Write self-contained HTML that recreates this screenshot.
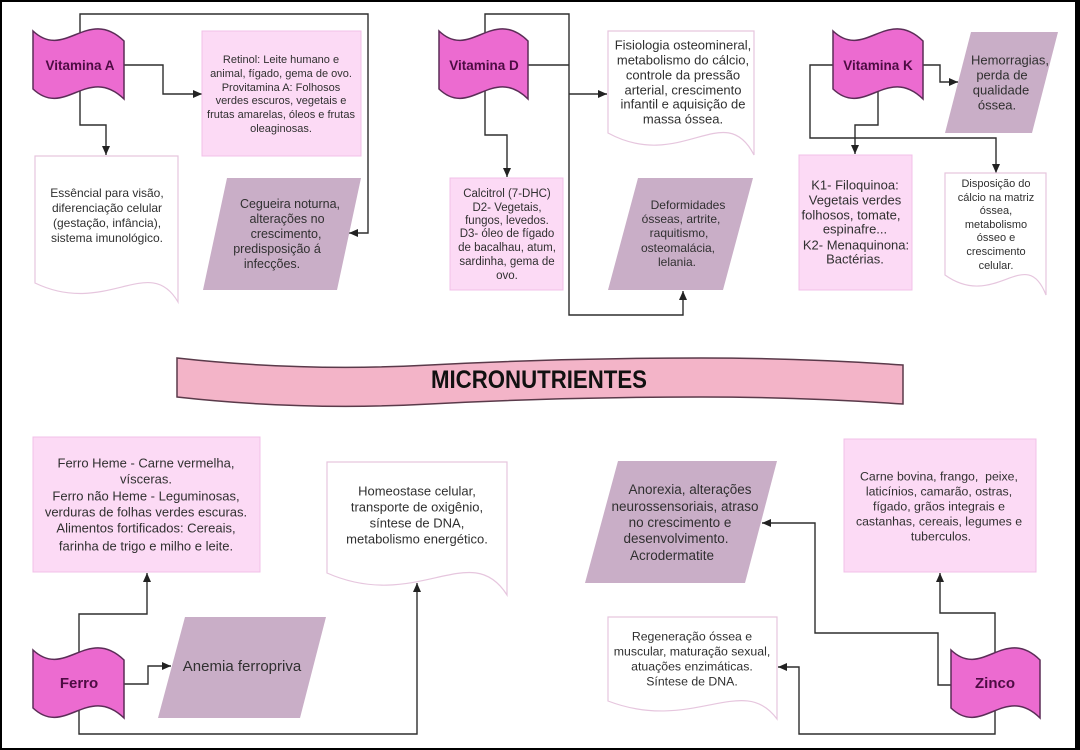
<!DOCTYPE html>
<html><head><meta charset="utf-8">
<style>
html,body{margin:0;padding:0;background:#fff;}
svg{display:block;}
text{font-family:"Liberation Sans",Arial,sans-serif;fill:#303030;}
.t{font-weight:bold;fill:#4d0c43;}
</style></head><body>
<svg width="1080" height="750" viewBox="0 0 1080 750" xmlns="http://www.w3.org/2000/svg">
<defs>
<marker id="ar" markerWidth="9" markerHeight="8" refX="9" refY="4" orient="auto" markerUnits="userSpaceOnUse"><path d="M0,0 L9,4 L0,8 Z" fill="#222"/></marker>
</defs>
<rect width="1080" height="750" fill="#fff"/>

<!-- connectors -->
<g fill="none" stroke="#2e2e2e" stroke-width="1.4">
 <polyline points="80,60 80,14 368,14 368,233 349,233" marker-end="url(#ar)"/>
 <polyline points="100,65 163,65 163,94 202,94" marker-end="url(#ar)"/>
 <polyline points="80,70 80,125 106,125 106,155" marker-end="url(#ar)"/>
 <polyline points="485,60 485,14 569,14 569,315 683,315 683,291" marker-end="url(#ar)"/>
 <polyline points="500,65 569,65"/>
 <polyline points="569,94 607,94" marker-end="url(#ar)"/>
 <polyline points="485,70 485,135 507,135 507,177" marker-end="url(#ar)"/>
 <polyline points="850,65 810,65 810,138 996,138 996,173" marker-end="url(#ar)"/>
 <polyline points="878,70 878,125 855,125 855,154" marker-end="url(#ar)"/>
 <polyline points="900,65 940,65 940,82 958,82" marker-end="url(#ar)"/>
 <polyline points="79,680 79,614 147,614 147,573" marker-end="url(#ar)"/>
 <polyline points="100,684 148,684 148,666 171,666" marker-end="url(#ar)"/>
 <polyline points="79,690 79,734 417,734 417,583" marker-end="url(#ar)"/>
 <polyline points="995,680 995,613 940,613 940,573" marker-end="url(#ar)"/>
 <polyline points="970,685 938,685 938,633 815,633 815,523 762,523" marker-end="url(#ar)"/>
 <polyline points="995,690 995,734 799,734 799,667 778,667" marker-end="url(#ar)"/>
</g>

<!-- light pink boxes -->
<g fill="#fcdaf5" stroke="#f2c0e8" stroke-width="1">
 <rect x="202" y="31" width="159" height="125"/>
 <rect x="450" y="178" width="113" height="112"/>
 <rect x="799" y="155" width="113" height="135"/>
 <rect x="33" y="437" width="227" height="135"/>
 <rect x="844" y="439" width="192" height="133"/>
</g>

<!-- parallelograms -->
<g fill="#c9aec7">
 <polygon points="227,178 361,178 337,290 203,290"/>
 <polygon points="638,178 753,178 723,290 608,290"/>
 <polygon points="971,32 1058,32 1032,133 945,133"/>
 <polygon points="185,617 326,617 300,718 158,718"/>
 <polygon points="618,461 777,461 745,583 585,583"/>
</g>

<!-- documents -->
<g fill="#fff" stroke="#e6c6de" stroke-width="1.2">
 <path d="M35,156 H178 V302 C149.4,252.6 106.5,317.2 35,283 Z"/>
 <path d="M608,31 H754 V155 C724.8,97.8 681,172.6 608,133 Z"/>
 <path d="M945,173 H1046 V295 C1025.8,243 995.5,311 945,275 Z"/>
 <path d="M327,462 H507 V595 C471,537.8 417,612.6 327,573 Z"/>
 <path d="M608,617 H777 V719 C743.2,672.2 692.5,733.4 608,701 Z"/>
</g>

<!-- tapes -->
<g fill="#ec6bd0" stroke="#5b2d57" stroke-width="1.5">
 <path d="M33,31 C64.9,61 87.6,6 124,41 L124,99 C87.6,64 64.9,119 33,89 Z"/>
 <path d="M439,31 C470.2,61 492.4,6 528,41 L528,99 C492.4,64 470.2,119 439,89 Z"/>
 <path d="M833,31 C864.5,61 887,6 923,41 L923,99 C887,64 864.5,119 833,89 Z"/>
 <path d="M33,650 C64.9,680 87.6,625 124,660 L124,718 C87.6,683 64.9,738 33,708 Z"/>
 <path d="M951,650 C982.2,680 1004.4,625 1040,660 L1040,718 C1004.4,683 982.2,738 951,708 Z"/>
</g>
<text class="t" x="80" y="70" font-size="13.5" text-anchor="middle">Vitamina A</text>
<text class="t" x="484" y="70" font-size="13.5" text-anchor="middle">Vitamina D</text>
<text class="t" x="878" y="70" font-size="13.5" text-anchor="middle">Vitamina K</text>
<text class="t" x="79" y="688" font-size="15" text-anchor="middle">Ferro</text>
<text class="t" x="995" y="688" font-size="15" text-anchor="middle">Zinco</text>

<!-- banner -->
<path d="M177,358 Q303,372 430,365 Q566,358 701,358 Q800,358 903,365 L903,404 Q800,397 701,397 Q566,397 430,404 Q303,411 177,397 Z" fill="#f3b4c8" stroke="#5a3a4a" stroke-width="1.5"/>
<text x="539" y="388" font-size="25" font-weight="bold" text-anchor="middle" textLength="216" lengthAdjust="spacingAndGlyphs" style="fill:#111">MICRONUTRIENTES</text>

<!-- Retinol -->
<g font-size="11" text-anchor="middle">
 <text x="281" y="63">Retinol: Leite humano e</text>
 <text x="281" y="77">animal, fígado, gema de ovo.</text>
 <text x="281" y="91">Provitamina A: Folhosos</text>
 <text x="281" y="104">verdes escuros, vegetais e</text>
 <text x="281" y="118">frutas amarelas, óleos e frutas</text>
 <text x="281" y="132">oleaginosas.</text>
</g>
<!-- Essencial -->
<g font-size="12" text-anchor="middle">
 <text x="107" y="197">Essêncial para visão,</text>
 <text x="107" y="212">diferenciação celular</text>
 <text x="107" y="227">(gestação, infância),</text>
 <text x="107" y="242">sistema imunológico.</text>
</g>
<!-- Cegueira -->
<g font-size="12.5" text-anchor="middle">
 <text x="290" y="208">Cegueira noturna,</text>
 <text x="287" y="223">alterações no</text>
 <text x="286" y="238">crescimento,</text>
 <text x="277" y="253">predisposição á</text>
 <text x="272" y="268">infecções.</text>
</g>
<!-- Fisiologia -->
<g font-size="13" text-anchor="middle">
 <text x="683" y="49.5">Fisiologia osteomineral,</text>
 <text x="683" y="64.5">metabolismo do cálcio,</text>
 <text x="683" y="79.5">controle da pressão</text>
 <text x="683" y="94.5">arterial, crescimento</text>
 <text x="683" y="108.5">infantil e aquisição de</text>
 <text x="683" y="123.5">massa óssea.</text>
</g>
<!-- Calcitrol -->
<g font-size="11.5" text-anchor="middle">
 <text x="507" y="197">Calcitrol (7-DHC)</text>
 <text x="507" y="211">D2- Vegetais,</text>
 <text x="507" y="224">fungos, levedos.</text>
 <text x="507" y="237">D3- óleo de fígado</text>
 <text x="507" y="251">de bacalhau, atum,</text>
 <text x="507" y="265">sardinha, gema de</text>
 <text x="507" y="279">ovo.</text>
</g>
<!-- Deformidades -->
<g font-size="12" text-anchor="middle">
 <text x="688" y="209">Deformidades</text>
 <text x="681" y="223">ósseas, artrite,</text>
 <text x="679" y="237">raquitismo,</text>
 <text x="678" y="252">osteomalácia,</text>
 <text x="677" y="266">lelania.</text>
</g>
<!-- Hemorragias -->
<g font-size="13" text-anchor="middle">
 <text x="1010" y="64.5">Hemorragias,</text>
 <text x="1002" y="79.5">perda de</text>
 <text x="1001" y="94.5">qualidade</text>
 <text x="997" y="109.5">óssea.</text>
</g>
<!-- K1 -->
<g font-size="13" text-anchor="middle">
 <text x="855" y="189.5">K1- Filoquinoa:</text>
 <text x="855" y="204.5">Vegetais verdes</text>
 <text x="851" y="219.5">folhosos, tomate,</text>
 <text x="855" y="233.5">espinafre...</text>
 <text x="856" y="249.5">K2- Menaquinona:</text>
 <text x="855" y="263.5">Bactérias.</text>
</g>
<!-- Disposicao -->
<g font-size="11" text-anchor="middle">
 <text x="996" y="187">Disposição do</text>
 <text x="996" y="201">cálcio na matriz</text>
 <text x="996" y="214">óssea,</text>
 <text x="996" y="228">metabolismo</text>
 <text x="996" y="241">ósseo e</text>
 <text x="996" y="255">crescimento</text>
 <text x="996" y="269">celular.</text>
</g>
<!-- Ferro Heme -->
<g font-size="13" text-anchor="middle">
 <text x="146" y="467.5">Ferro Heme - Carne vermelha,</text>
 <text x="146" y="483.5">vísceras.</text>
 <text x="146" y="500.5">Ferro não Heme - Leguminosas,</text>
 <text x="146" y="516.5">verduras de folhas verdes escuras.</text>
 <text x="146" y="532.5">Alimentos fortificados: Cereais,</text>
 <text x="146" y="550.5">farinha de trigo e milho e leite.</text>
</g>
<!-- Homeostase -->
<g font-size="13" text-anchor="middle">
 <text x="417" y="495.5">Homeostase celular,</text>
 <text x="417" y="511.5">transporte de oxigênio,</text>
 <text x="417" y="527.5">síntese de DNA,</text>
 <text x="417" y="543.5">metabolismo energético.</text>
</g>
<!-- Anemia -->
<text x="242" y="671" font-size="15" text-anchor="middle">Anemia ferropriva</text>
<!-- Anorexia -->
<g font-size="13.5" text-anchor="middle">
 <text x="690" y="494">Anorexia, alterações</text>
 <text x="685" y="511">neurossensoriais, atraso</text>
 <text x="680" y="527">no crescimento e</text>
 <text x="676" y="543">desenvolvimento.</text>
 <text x="672" y="560">Acrodermatite</text>
</g>
<!-- Carne -->
<g font-size="12.3" text-anchor="middle">
 <text x="939" y="480.5" style="white-space:pre">Carne bovina, frango,  peixe,</text>
 <text x="939" y="495.5">laticínios, camarão, ostras,</text>
 <text x="939" y="510.5">fígado, grãos integrais e</text>
 <text x="939" y="525.5">castanhas, cereais, legumes e</text>
 <text x="941" y="540.5">tuberculos.</text>
</g>
<!-- Regeneracao -->
<g font-size="12.3" text-anchor="middle">
 <text x="692" y="640.5">Regeneração óssea e</text>
 <text x="692" y="655.5">muscular, maturação sexual,</text>
 <text x="692" y="670.5">atuações enzimáticas.</text>
 <text x="692" y="685.5">Síntese de DNA.</text>
</g>

<!-- frame -->
<g fill="#000">
 <rect x="0" y="0" width="1080" height="2"/>
 <rect x="0" y="0" width="2" height="750"/>
 <rect x="0" y="748" width="1080" height="2"/>
 <rect x="1075" y="0" width="5" height="750"/>
</g>
</svg>
</body></html>
